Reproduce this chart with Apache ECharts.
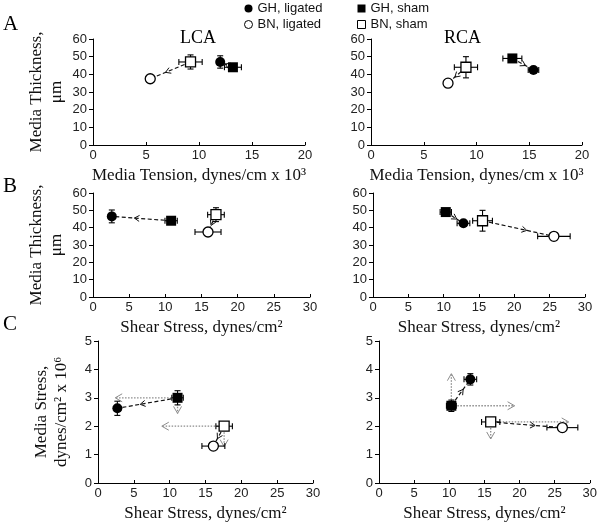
<!DOCTYPE html>
<html>
<head>
<meta charset="utf-8">
<script src="https://cdn.jsdelivr.net/npm/echarts@6/dist/echarts.min.js"></script>
<style>
  html, body { margin: 0; padding: 0; background: #fff; }
  #chart { width: 600px; height: 523px; }
</style>
</head>
<body>
<div id="chart"></div>
<script>
// panels: 0 A-LCA, 1 A-RCA, 2 B-LCA, 3 B-RCA, 4 C-LCA, 5 C-RCA
// each entry: [x, y, xErr, yErr]
const ghLigated = [[12.0, 47, 0.3, 3.5], [15.4, 42.5, 0.5, 1.2], [2.6, 46.5, 0.3, 3.7],
    [12.8, 42.5, 0.9, 1.2], [2.7, 2.63, 0.3, 0.25], [13.0, 3.65, 0.9, 0.2]];
const ghSham = [[13.2, 44, 0.8, 1], [13.4, 49, 0.9, 1], [10.8, 44, 0.85, 1],
    [10.3, 49, 0.8, 1.5], [11.1, 3.0, 0.8, 0.25], [10.3, 2.72, 0.7, 0.2]];
const bnLigated = [[5.4, 37.5, 0.2, 1], [7.3, 35, 0.3, 1], [15.9, 37.5, 1.8, 1],
    [25.6, 35, 2.3, 1], [16.1, 1.3, 1.6, 0.08], [26.1, 1.95, 2.2, 0.12]];
const bnSham = [[9.2, 47, 1.1, 4], [9.0, 44, 1.1, 6], [17.0, 47.5, 1.15, 4],
    [15.5, 44, 1.4, 6], [17.6, 2.0, 1.15, 0.08], [15.9, 2.15, 1.3, 0.08]];

// grey dotted arrows in panel C (start at sham point, end at target)
const ghShamTargets = {4: [[2.4, 3.0], [11.1, 2.45]], 5: [[10.3, 3.85], [19.3, 2.72]]};
const bnShamTargets = {4: [[8.9, 2.0], [17.6, 1.28]], 5: [[27.0, 2.15], [15.9, 1.55]]};

const xNames = ['Media Tension, dynes/cm x 10³', 'Media Tension, dynes/cm x 10³',
    'Shear Stress, dynes/cm²', 'Shear Stress, dynes/cm²',
    'Shear Stress, dynes/cm²', 'Shear Stress, dynes/cm²'];
const yNames = ['Media Thickness,\nμm', '', 'Media Thickness,\nμm', '', 'Media Stress,\ndynes/cm² x 10⁶', ''];
const xMax = [20, 20, 30, 30, 30, 30];
const yMax = [60, 60, 60, 60, 5, 5];
const yStep = [10, 10, 10, 10, 1, 1];

const grids = [
    {left: 93, top: 39, width: 212, height: 106},
    {left: 371, top: 39, width: 211, height: 106},
    {left: 93, top: 193, width: 217, height: 104},
    {left: 373, top: 193, width: 212, height: 104},
    {left: 98, top: 341, width: 215, height: 142},
    {left: 379, top: 341, width: 211, height: 142}
];

const serifFont = '"Liberation Serif", "Times New Roman", serif';
const sansFont = '"Liberation Sans", Arial, sans-serif';

let xAxes = [], yAxes = [], series = [];
for (let i = 0; i < 6; i++) {
    xAxes.push({
        gridIndex: i, type: 'value', min: 0, max: xMax[i], interval: 5,
        name: xNames[i], nameLocation: 'middle', nameGap: 22,
        nameTextStyle: {fontFamily: serifFont, fontSize: 17, color: '#111'},
        axisLine: {lineStyle: {color: '#000', width: 1}},
        axisTick: {show: true, inside: true, length: 3, lineStyle: {color: '#000'}},
        axisLabel: {fontFamily: sansFont, fontSize: 13, color: '#222', margin: 4},
        splitLine: {show: false}
    });
    yAxes.push({
        gridIndex: i, type: 'value', min: 0, max: yMax[i], interval: yStep[i],
        name: yNames[i], nameLocation: 'middle', nameRotate: 90, nameGap: 26,
        nameTextStyle: {fontFamily: serifFont, fontSize: 17, color: '#111', lineHeight: 20, align: 'center'},
        axisLine: {show: true, lineStyle: {color: '#000', width: 1}},
        axisTick: {show: true, length: 4, lineStyle: {color: '#000'}},
        axisLabel: {fontFamily: sansFont, fontSize: 13, color: '#222', margin: 6},
        splitLine: {show: false}
    });
}

function arrowItem(p1, p2, frac, style, headL, headW) {
    let dx = p2[0] - p1[0], dy = p2[1] - p1[1];
    let len = Math.sqrt(dx * dx + dy * dy) || 1;
    let ux = dx / len, uy = dy / len;
    let hx = p1[0] + dx * frac, hy = p1[1] + dy * frac;
    return [
        {type: 'line', shape: {x1: p1[0], y1: p1[1], x2: p2[0], y2: p2[1]}, style: style},
        {type: 'polyline', shape: {points: [
            [hx - ux * headL - uy * headW, hy - uy * headL + ux * headW],
            [hx, hy],
            [hx - ux * headL + uy * headW, hy - uy * headL - ux * headW]]},
            style: {stroke: style.stroke, lineWidth: 1, fill: null}}
    ];
}

for (let i = 0; i < 6; i++) {
    // dotted grey arrows
    let dotted = [];
    if (ghShamTargets[i]) {
        ghShamTargets[i].forEach(t => dotted.push([ghSham[i][0], ghSham[i][1], t[0], t[1]]));
        bnShamTargets[i].forEach(t => dotted.push([bnSham[i][0], bnSham[i][1], t[0], t[1]]));
    }
    if (dotted.length) {
        series.push({
            type: 'custom', xAxisIndex: i, yAxisIndex: i, silent: true, z: 1,
            encode: {x: [0, 2], y: [1, 3]},
            data: dotted,
            renderItem: function (params, api) {
                let p1 = api.coord([api.value(0), api.value(1)]);
                let p2 = api.coord([api.value(2), api.value(3)]);
                return {type: 'group', children: arrowItem(p1, p2, 1,
                    {stroke: '#8c8c8c', lineWidth: 1.3, lineDash: [1.5, 1.5]}, 7, 4)};
            }
        });
    }
    // dashed black arrows sham -> ligated
    series.push({
        type: 'custom', xAxisIndex: i, yAxisIndex: i, silent: true, z: 2,
        encode: {x: [0, 2], y: [1, 3]},
        data: [[ghSham[i][0], ghSham[i][1], ghLigated[i][0], ghLigated[i][1]],
            [bnSham[i][0], bnSham[i][1], bnLigated[i][0], bnLigated[i][1]]],
        renderItem: function (params, api) {
            let p1 = api.coord([api.value(0), api.value(1)]);
            let p2 = api.coord([api.value(2), api.value(3)]);
            return {type: 'group', children: arrowItem(p1, p2, 0.62,
                {stroke: '#111', lineWidth: 1.2, lineDash: [4, 2.5]}, 5, 3)};
        }
    });
    // error bars
    series.push({
        type: 'custom', xAxisIndex: i, yAxisIndex: i, silent: true, z: 3,
        encode: {x: 0, y: 1},
        data: [ghLigated[i], ghSham[i], bnLigated[i], bnSham[i]],
        renderItem: function (params, api) {
            let x = api.value(0), y = api.value(1), ex = api.value(2), ey = api.value(3);
            let l = api.coord([x - ex, y]), r = api.coord([x + ex, y]);
            let t = api.coord([x, y + ey]), b = api.coord([x, y - ey]);
            let st = {stroke: '#000', lineWidth: 1.1};
            return {type: 'group', children: [
                {type: 'line', shape: {x1: l[0], y1: l[1], x2: r[0], y2: r[1]}, style: st},
                {type: 'line', shape: {x1: l[0], y1: l[1] - 3, x2: l[0], y2: l[1] + 3}, style: st},
                {type: 'line', shape: {x1: r[0], y1: r[1] - 3, x2: r[0], y2: r[1] + 3}, style: st},
                {type: 'line', shape: {x1: t[0], y1: t[1], x2: b[0], y2: b[1]}, style: st},
                {type: 'line', shape: {x1: t[0] - 3, y1: t[1], x2: t[0] + 3, y2: t[1]}, style: st},
                {type: 'line', shape: {x1: b[0] - 3, y1: b[1], x2: b[0] + 3, y2: b[1]}, style: st}
            ]};
        }
    });
    // markers
    const openStyle = {color: '#fff', borderColor: '#000', borderWidth: 1.3, opacity: 1};
    const filledStyle = {color: '#000', opacity: 1};
    series.push({name: 'BN, sham', type: 'scatter', xAxisIndex: i, yAxisIndex: i, z: 4,
        symbol: 'rect', symbolSize: 10, data: [bnSham[i].slice(0, 2)], itemStyle: openStyle});
    series.push({name: 'BN, ligated', type: 'scatter', xAxisIndex: i, yAxisIndex: i, z: 4,
        symbol: 'circle', symbolSize: 10, data: [bnLigated[i].slice(0, 2)], itemStyle: openStyle});
    series.push({name: 'GH, sham', type: 'scatter', xAxisIndex: i, yAxisIndex: i, z: 4,
        symbol: 'rect', symbolSize: 10, data: [ghSham[i].slice(0, 2)], itemStyle: filledStyle});
    series.push({name: 'GH, ligated', type: 'scatter', xAxisIndex: i, yAxisIndex: i, z: 5,
        symbol: 'circle', symbolSize: 10, data: [ghLigated[i].slice(0, 2)], itemStyle: filledStyle});
}

const legendText = {fontFamily: sansFont, fontSize: 13, color: '#111'};
const legendItem = {borderWidth: 1};
let option = {
    animation: false,
    backgroundColor: '#fff',
    grid: grids,
    xAxis: xAxes,
    yAxis: yAxes,
    legend: [
        {data: ['GH, ligated', 'BN, ligated'], orient: 'vertical', left: 239, top: -3,
            itemWidth: 8, itemHeight: 8, itemGap: 3, itemStyle: legendItem, textStyle: legendText},
        {data: ['GH, sham', 'BN, sham'], orient: 'vertical', left: 352, top: -3,
            itemWidth: 8, itemHeight: 8, itemGap: 3, itemStyle: legendItem, textStyle: legendText}
    ],
    graphic: [
        {type: 'text', left: 3, top: 14, style: {text: 'A', font: '21px ' + serifFont, fill: '#000'}},
        {type: 'text', left: 3, top: 176, style: {text: 'B', font: '21px ' + serifFont, fill: '#000'}},
        {type: 'text', left: 3, top: 314, style: {text: 'C', font: '21px ' + serifFont, fill: '#000'}},
        {type: 'text', left: 180, top: 29, style: {text: 'LCA', font: '18px ' + serifFont, fill: '#000'}},
        {type: 'text', left: 444, top: 29, style: {text: 'RCA', font: '18px ' + serifFont, fill: '#000'}}
    ],
    series: series
};

let my_chart = echarts.init(document.getElementById('chart'));
my_chart.setOption(option);
</script>
</body>
</html>
